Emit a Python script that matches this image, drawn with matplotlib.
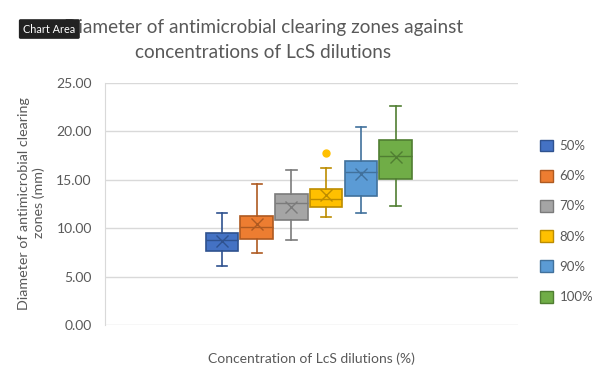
import matplotlib
matplotlib.use("Agg")
from matplotlib import pyplot as plt
from matplotlib.patches import Patch

# concentrations and summary stats
labels = ["50%", "60%", "70%", "80%", "90%", "100%"]
whislo = [6.1, 7.4, 8.75, 11.1, 11.55, 12.25]
q1 = [7.6, 8.85, 10.8, 12.2, 13.35, 15.1]
med = [8.8, 10.1, 12.6, 12.95, 15.8, 17.45]
q3 = [9.45, 11.2, 13.5, 14.0, 16.9, 19.05]
whishi = [11.55, 14.5, 15.95, 16.25, 20.4, 22.6]
means = [8.7, 10.4, 12.2, 13.4, 15.6, 17.3]
fliers = [[], [], [], [17.75], [], []]

fills = ["#4472C4", "#ED7D31", "#A5A5A5", "#FFC000", "#5B9BD5", "#70AD47"]
edges = ["#2F528F", "#AE5A21", "#7B7B7B", "#BC8C00", "#41719C", "#507E32"]

plt.rcParams['font.family'] = ['Lato', 'DejaVu Sans']
txt = "#595959"

fig = plt.figure(figsize=(6.09, 3.72), dpi=100)
ax = fig.add_axes([0.1724, 0.1263, 0.6782, 0.6514])

step = 0.084
for i in range(len(labels)):
    st = dict(whislo=whislo[i], q1=q1[i], med=med[i], q3=q3[i],
              whishi=whishi[i], mean=means[i], fliers=fliers[i])
    pos = 0.4935 + (i - 2.5) * step
    ax.bxp([st], positions=[pos], widths=0.079, patch_artist=True,
           showmeans=True, manage_ticks=False,
           boxprops=dict(facecolor=fills[i], edgecolor=edges[i], linewidth=1.2),
           medianprops=dict(color=edges[i], linewidth=1.0),
           whiskerprops=dict(color=edges[i], linewidth=1.2),
           capprops=dict(color=edges[i], linewidth=1.2),
           capwidths=0.025,
           meanprops=dict(marker='x', markeredgecolor=edges[i], markersize=9,
                          markeredgewidth=1.0),
           flierprops=dict(marker='o', markerfacecolor=fills[i],
                           markeredgecolor=fills[i], markersize=5))

ax.set_xlim(0, 1)
ax.set_ylim(0, 25)
ax.set_yticks([0, 5, 10, 15, 20, 25])
ax.set_yticklabels(['%.2f' % v for v in [0, 5, 10, 15, 20, 25]])
ax.set_xticks([])
ax.grid(axis='y', color='#D9D9D9', linewidth=1)
ax.set_axisbelow(True)
for s in ['top', 'right', 'bottom']:
    ax.spines[s].set_visible(False)
ax.spines['left'].set_color('#D9D9D9')
ax.tick_params(axis='y', length=0, labelsize=10, labelcolor=txt, pad=9.5)

ax.set_xlabel('Concentration of LcS dilutions (%)', fontsize=10, color=txt,
              labelpad=20)
fig.text(0.052, 0.454, 'Diameter of antimicrobial clearing\nzones (mm)',
         rotation=90, ha='center', va='center', fontsize=10.3, color=txt,
         linespacing=1.2)

fig.text(0.432, 0.893, 'Diameter of antimicrobial clearing zones against\nconcentrations of LcS dilutions',
         ha='center', va='center', fontsize=13.7, color=txt, linespacing=1.55)

handles = [Patch(facecolor=fills[i], edgecolor=edges[i]) for i in range(len(labels))]
fig.legend(handles, labels, loc='center left', bbox_to_anchor=(0.867, 0.405),
           frameon=False, fontsize=9.5, labelcolor=txt, handlelength=1.0,
           handleheight=1.0, labelspacing=1.35, handletextpad=0.5)

# overlay tooltip seen in the screenshot (it covers the title's first letter there too)
fig.text(0.081, 0.922, 'Chart Area', ha='center', va='center', fontsize=7.8,
         color='white',
         bbox=dict(boxstyle='round,pad=0.4,rounding_size=0.15',
                   facecolor='#222222', edgecolor='none'))

plt.savefig('out.png', dpi=100)
plt.close(fig)
